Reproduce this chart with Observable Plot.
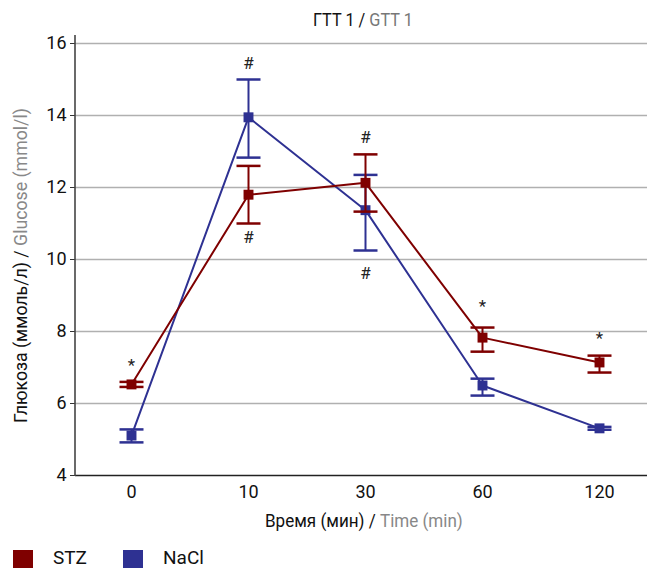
<!DOCTYPE html>
<html><head><meta charset="utf-8">
<script src="https://cdn.jsdelivr.net/npm/d3@7"></script>
<script src="https://cdn.jsdelivr.net/npm/@observablehq/plot@0.6"></script>
<style>
body{margin:0;background:#fff;font-family:Roboto,"Open Sans",sans-serif;position:relative;width:647px;height:569px;overflow:hidden;}
.sw{position:absolute;top:550px;width:20px;height:18px;}
.lb{position:absolute;top:546px;font-size:19px;color:#111;line-height:24px;}
</style>
</head><body><div id="chart"></div>
<div class="sw" style="left:13px;background:#7f0000"></div><div class="lb" style="left:53px">STZ</div>
<div class="sw" style="left:123px;background:#2e3192"></div><div class="lb" style="left:163px">NaCl</div>
<script>
const times = ["0","10","30","60","120"];
const stzMean = [6.53, 11.8, 12.13, 7.83, 7.14];
const stzLow  = [6.46, 11.0, 11.33, 7.44, 6.86];
const stzHigh = [6.60, 12.6, 12.92, 8.11, 7.33];
const naclMean = [5.11, 13.95, 11.37, 6.50, 5.31];
const naclLow  = [4.92, 12.83, 10.25, 6.22, 5.27];
const naclHigh = [5.28, 15.00, 12.35, 6.69, 5.35];
const markTime  = ["0","10","10","30","30","60","120"];
const markValue = [7.05, 15.45, 10.6, 13.4, 9.62, 8.68, 7.8];
const markLabel = ["*","#","#","#","#","*","*"];
const yTicks = [4,6,8,10,12,14,16];

const RED = "#7f0000", BLUE = "#2e3192";
const rows = (mean, lo, hi) => times.map((t,i)=>({t, m:mean[i], lo:lo[i], hi:hi[i]}));
const stz = rows(stzMean, stzLow, stzHigh);
const nacl = rows(naclMean, naclLow, naclHigh);
const notes = markTime.map((t,i)=>({t, v:markValue[i], s:markLabel[i]}));

const capSymbol = {draw(ctx){ ctx.moveTo(-12,0); ctx.lineTo(12,0); }};

function series(data, color) {
  return [
    Plot.ruleX(data, {x:"t", y1:"lo", y2:"hi", stroke:color, strokeWidth:2}),
    Plot.dot(data, {x:"t", y:"lo", symbol:capSymbol, stroke:color, strokeWidth:2.5, fill:"none"}),
    Plot.dot(data, {x:"t", y:"hi", symbol:capSymbol, stroke:color, strokeWidth:2.5, fill:"none"}),
    Plot.line(data, {x:"t", y:"m", stroke:color, strokeWidth:2}),
    Plot.dot(data, {x:"t", y:"m", symbol:"square", r:5.6, fill:color, stroke:"none"})
  ];
}

const FONT = 'Roboto,"Open Sans",sans-serif';
const chart = Plot.plot({
  width: 647, height: 540,
  marginLeft: 75, marginRight: 0, marginTop: 43, marginBottom: 65,
  style: {fontFamily: FONT, background:"#fff"},
  x: {type:"point", domain: times, padding: 0.444, align: 0.538, label: null},
  y: {domain:[4,16], label: null},
  marks: [
    Plot.gridY(yTicks.filter(d=>d>4), {stroke:"#b0b0b0", strokeOpacity:1, strokeWidth:1.3}),
    Plot.ruleY([4], {stroke:"#222", strokeWidth:1.5}),
    Plot.axisY(yTicks, {tickSize:5, tickPadding:4, fontSize:18, stroke:"#333", fill:"#111", label:null}),
    Plot.axisX(times, {tickSize:0, tickPadding:10, fontSize:18, fill:"#111", label:null}),
    ...series(nacl, BLUE),
    ...series(stz, RED),
    Plot.text(notes, {x:"t", y:"v", text:"s", fontSize:17, fill:"#222"})
  ]
});
document.getElementById("chart").appendChild(chart);

const svg = d3.select(chart);
svg.append("line").attr("x1",75).attr("x2",75).attr("y1",35).attr("y2",476).attr("stroke","#444").attr("stroke-width",1.6);

// two-tone label, horizontally condensed to the reference width
function label(base, parts, target) {
  const g = svg.append("g").attr("transform", base);
  const txt = g.append("text").attr("font-size",18).attr("font-family",FONT).attr("text-anchor","start");
  parts.forEach(([s,c]) => txt.append("tspan").attr("fill",c).text(s));
  const w = txt.node().getComputedTextLength();
  const k = w > 0 ? target / w : 1;
  txt.attr("transform", `scale(${k},1)`);
}
label("translate(313,26)", [["ГТТ 1 / ","#111"],["GTT 1","#777"]], 100);
label("translate(265,527)", [["Время (мин) / ","#111"],["Time (min)","#888"]], 198);
label("translate(27,423) rotate(-90)", [["Глюкоза (ммоль/л) / ","#111"],["Glucose (mmol/l)","#888"]], 315);
</script>
</body></html>
